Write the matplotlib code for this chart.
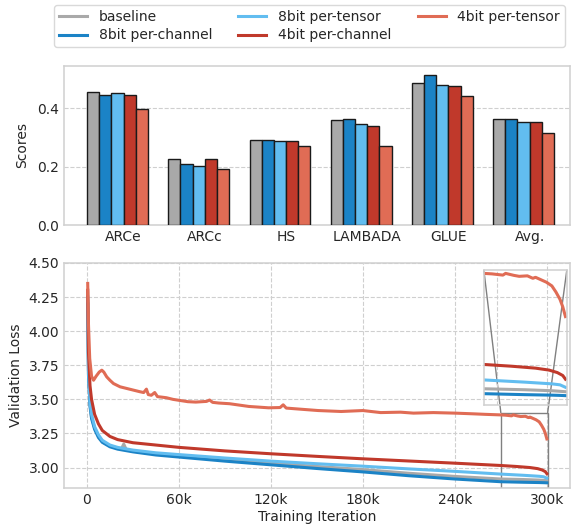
import numpy as np
import matplotlib
matplotlib.use("Agg")
import matplotlib.pyplot as plt
from mpl_toolkits.axes_grid1.inset_locator import mark_inset

plt.rcParams.update({
    "font.family": "DejaVu Sans", "font.size": 10,
    "axes.edgecolor": "#d0d0d0", "axes.linewidth": 1.1,
    "text.color": "#262626", "axes.labelcolor": "#262626",
    "xtick.color": "#262626", "ytick.color": "#262626",
    "grid.color": "#cfcfcf", "grid.linestyle": "--", "grid.linewidth": 0.8,
})

NAMES = ["baseline", "8bit per-channel", "8bit per-tensor", "4bit per-channel", "4bit per-tensor"]
COLORS = ["#a9a9a9", "#1b83c6", "#62bdf0", "#c0392b", "#e06c55"]

# ---- benchmark scores ----
tasks = ["ARCe", "ARCc", "HS", "LAMBADA", "GLUE", "Avg."]
score_baseline = [0.455, 0.225, 0.290, 0.359, 0.488, 0.362]
score_8pc = [0.444, 0.210, 0.291, 0.362, 0.515, 0.363]
score_8pt = [0.452, 0.203, 0.287, 0.346, 0.480, 0.353]
score_4pc = [0.444, 0.225, 0.287, 0.340, 0.475, 0.353]
score_4pt = [0.398, 0.193, 0.271, 0.269, 0.441, 0.315]
scores = [score_baseline, score_8pc, score_8pt, score_4pc, score_4pt]

# ---- validation loss curves ----
it_base = [500, 1000, 2000, 3000, 5000, 7500, 10000, 15000, 20000, 22500, 24000, 25500,
           30000, 45000, 60000, 90000, 120000, 150000, 180000, 210000, 240000, 270000,
           285000, 295000, 300000]
loss_base = [4.22, 3.69, 3.46, 3.37, 3.29, 3.23, 3.19, 3.158, 3.142, 3.137, 3.172, 3.134,
             3.12, 3.10, 3.085, 3.057, 3.032, 3.008, 2.985, 2.958, 2.935, 2.916,
             2.912, 2.908, 2.904]

it_lo = [500, 1000, 2000, 3000, 5000, 7500, 10000, 15000, 20000, 30000, 45000, 60000,
         90000, 120000, 150000, 180000, 210000, 240000, 270000, 285000, 295000, 298000, 300000]
loss_8pc = [4.20, 3.68, 3.45, 3.36, 3.28, 3.22, 3.185, 3.152, 3.135, 3.115, 3.092, 3.077,
            3.047, 3.02, 2.993, 2.968, 2.94, 2.916, 2.896, 2.892, 2.890, 2.889, 2.888]
loss_8pt = [4.25, 3.71, 3.48, 3.39, 3.30, 3.24, 3.20, 3.165, 3.148, 3.128, 3.108, 3.095,
            3.07, 3.047, 3.028, 3.01, 2.99, 2.972, 2.952, 2.943, 2.936, 2.932, 2.922]

it_4pc = [500, 1000, 2000, 3000, 5000, 7500, 10000, 15000, 20000, 30000, 45000, 60000,
          90000, 120000, 150000, 180000, 210000, 240000, 270000, 280000, 289000, 294000,
          297000, 299000, 300000]
loss_4pc = [4.30, 3.84, 3.60, 3.50, 3.39, 3.32, 3.272, 3.228, 3.205, 3.182, 3.165, 3.148,
            3.122, 3.101, 3.082, 3.064, 3.048, 3.032, 3.015, 3.008, 3.0, 2.992,
            2.982, 2.97, 2.955]

it_4pt = [500, 1000, 1800, 3000, 4300, 6000, 8000, 9700, 11000, 12900, 15000, 17300,
          21600, 25900, 30200, 34500, 37000, 38800, 40000, 42000, 44200, 46000, 49000,
          51800, 56100, 60000, 65800, 71000, 78000, 80000, 82000, 86000, 93000, 105600,
          118500, 126000, 128000, 130000, 135700, 150800, 165800, 180000, 191600, 204500,
          213000, 226000, 240000, 251800, 260000, 270000, 273000, 277000, 278000, 281000,
          283000, 286000, 288000, 289000, 291000, 293000, 295000, 296500, 298000, 299000,
          300000]
loss_4pt = [4.35, 4.05, 3.80, 3.67, 3.64, 3.67, 3.70, 3.714, 3.70, 3.665, 3.64, 3.616,
            3.592, 3.58, 3.568, 3.556, 3.55, 3.575, 3.535, 3.53, 3.55, 3.52, 3.516,
            3.512, 3.50, 3.493, 3.483, 3.48, 3.485, 3.495, 3.478, 3.473, 3.468, 3.448,
            3.438, 3.44, 3.46, 3.436, 3.431, 3.418, 3.411, 3.418, 3.403, 3.406,
            3.399, 3.403, 3.399, 3.394, 3.39, 3.386, 3.384, 3.379, 3.386, 3.378,
            3.374, 3.376, 3.366, 3.37, 3.36, 3.35, 3.335, 3.31, 3.28, 3.25,
            3.21]

curves = [(it_base, loss_base), (it_lo, loss_8pc), (it_lo, loss_8pt),
          (it_4pc, loss_4pc), (it_4pt, loss_4pt)]

fig = plt.figure(figsize=(5.71, 5.27), dpi=100)
ax1 = fig.add_axes([0.112, 0.573, 0.886, 0.302])
ax2 = fig.add_axes([0.112, 0.074, 0.886, 0.427])

# top: grouped bars
x = np.arange(len(tasks))
w = 0.15
for k, (vals, c) in enumerate(zip(scores, COLORS)):
    ax1.bar(x + (k - 2) * w, vals, w, color=c, edgecolor="#1a1a1a", linewidth=1.0, zorder=3)
ax1.set_xticks(x + w / 2)
ax1.set_xticklabels(tasks)
ax1.set_xlim(-0.66, 5.57)
ax1.set_ylim(0, 0.545)
ax1.set_yticks([0.0, 0.2, 0.4])
ax1.set_ylabel("Scores", labelpad=6)
ax1.yaxis.grid(True, zorder=0)
ax1.set_axisbelow(True)
ax1.tick_params(length=0, pad=3.5)

# bottom: loss curves
handles = []
for (it, loss), c, n in zip(curves, COLORS, NAMES):
    h, = ax2.plot(it, loss, color=c, lw=2.2, label=n)
    handles.append(h)
ax2.set_xlim(-15000, 315000)
ax2.set_ylim(2.85, 4.5)
ax2.set_xticks([0, 60000, 120000, 180000, 240000, 300000])
ax2.set_xticklabels(["0", "60k", "120k", "180k", "240k", "300k"])
ax2.set_yticks([3.0, 3.25, 3.5, 3.75, 4.0, 4.25, 4.5])
ax2.set_xlabel("Training Iteration", labelpad=2)
ax2.set_ylabel("Validation Loss", labelpad=4)
ax2.grid(True)
ax2.set_axisbelow(True)
ax2.tick_params(length=0, pad=3.5)

# zoomed inset on the final iterations
axins = ax2.inset_axes([0.830, 0.369, 0.164, 0.60])
for (it, loss), c in zip(curves, COLORS):
    axins.plot(it, loss, color=c, lw=2.2)
axins.set_xlim(270000, 300500)
axins.set_ylim(2.85, 3.40)
axins.set_facecolor("none")
axins.set_xticks([275000])
axins.set_yticks([])
axins.set_xticklabels([])
axins.tick_params(length=0)
axins.xaxis.grid(True)
mark_inset(ax2, axins, loc1=2, loc2=1, fc="none", ec="#808080", lw=1.0)

fig.legend(handles=handles, loc="upper center", ncol=3, bbox_to_anchor=(0.542, 1.003),
           frameon=True, edgecolor="#d0d0d0", handlelength=2.0, columnspacing=1.9,
           handletextpad=0.85, borderpad=0.35, labelspacing=0.3, fontsize=10)

fig.savefig("out.png", dpi=100)
